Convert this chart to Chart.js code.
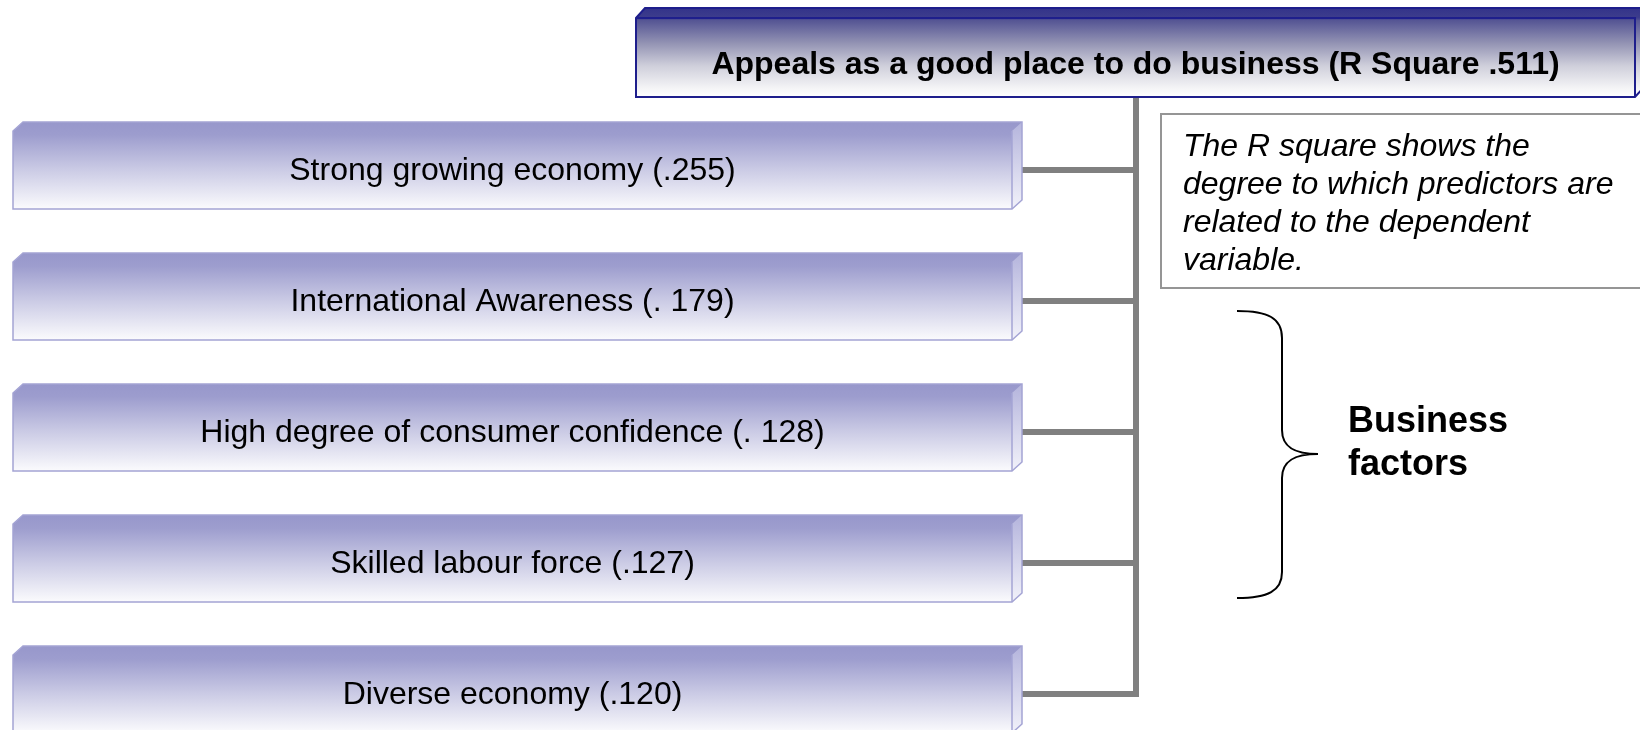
<!DOCTYPE html>
<html><head><meta charset="utf-8">
<script src="https://cdn.jsdelivr.net/npm/chart.js@4.4.1/dist/chart.umd.min.js"></script>
<style>html,body{margin:0;padding:0;background:#fff;}canvas{display:block;}</style>
</head><body>
<canvas id="c" width="1640" height="730"></canvas>
<script>
// ---- data ----
const factorNames = ["Strong growing economy", "International Awareness", "High degree of consumer confidence", "Skilled labour force", "Diverse economy"];
const factorValueLabels = ["(.255)", "(. 179)", "(. 128)", "(.127)", "(.120)"];
const factorValues = [0.255, 0.179, 0.128, 0.127, 0.120];
const outcomeName = "Appeals as a good place to do business";
const outcomeLabel = "(R Square .511)";
const noteLines = ["The R square shows the", "degree to which predictors are", "related to the dependent", "variable."];
const groupLines = ["Business", "factors"];

// ---- layout & style (not data) ----
const FONT = '"Liberation Sans", Arial, Helvetica, sans-serif';
const L = {
  boxLeft: 13, boxRight: 1012, boxHalf: 39, dx: 10, dy: 9,
  topBox: {left: 636, right: 1635, top: 18, bottom: 97, dx: 9, dy: 10, textBaseline: 74},
  trunkX: 1136, lineW: 6,
  note: {left: 1161, top: 114, right: 1645, bottom: 288, textX: 1183, base0: 156, step: 38},
  group: {x: 1348, base0: 432, step: 43},
  brace: {x0: 1237, xv: 1282, tip: 1318, top: 311, mid: 454, bottom: 598}
};

function boxPath(ctx, l, t, r, b, dx, dy) {
  ctx.beginPath();
  ctx.moveTo(l, t); ctx.lineTo(l + dx, t - dy); ctx.lineTo(r + dx, t - dy);
  ctx.lineTo(r + dx, b - dy); ctx.lineTo(r, b); ctx.lineTo(l, b); ctx.closePath();
}

const diagram = {
  id: 'diagram',
  afterDraw(chart) {
    const ctx = chart.ctx;
    const ys = chart.scales.y;
    ctx.save();
    // connectors
    ctx.strokeStyle = '#808080';
    ctx.lineWidth = L.lineW;
    ctx.lineJoin = 'miter';
    const lastY = ys.getPixelForValue(factorNames.length - 1);
    ctx.beginPath();
    ctx.moveTo(L.trunkX, L.topBox.bottom);
    ctx.lineTo(L.trunkX, lastY);
    ctx.lineTo(L.boxRight + L.dx, lastY);
    ctx.stroke();
    for (let i = 0; i < factorNames.length - 1; i++) {
      const cy = ys.getPixelForValue(i);
      ctx.beginPath();
      ctx.moveTo(L.boxRight + L.dx, cy);
      ctx.lineTo(L.trunkX, cy);
      ctx.stroke();
    }
    // factor boxes
    factorNames.forEach((name, i) => {
      const cy = ys.getPixelForValue(i);
      const t = cy - L.boxHalf, b = cy + L.boxHalf, l = L.boxLeft, r = L.boxRight;
      const g = ctx.createLinearGradient(0, t - L.dy, 0, b);
      g.addColorStop(0, '#9797cb');
      g.addColorStop(0.15, '#9d9dce');
      g.addColorStop(0.55, '#cbcbe5');
      g.addColorStop(1, '#fbfbfd');
      boxPath(ctx, l, t, r, b, L.dx, L.dy);
      ctx.fillStyle = g; ctx.fill();
      // side face
      const gs = ctx.createLinearGradient(0, t - L.dy, 0, b);
      gs.addColorStop(0, '#b4b4dc'); gs.addColorStop(1, '#f2f2fa');
      ctx.beginPath();
      ctx.moveTo(r, t); ctx.lineTo(r + L.dx, t - L.dy); ctx.lineTo(r + L.dx, b - L.dy); ctx.lineTo(r, b); ctx.closePath();
      ctx.fillStyle = gs; ctx.fill();
      ctx.strokeStyle = '#a4a4d4'; ctx.lineWidth = 1.5;
      boxPath(ctx, l, t, r, b, L.dx, L.dy); ctx.stroke();
      ctx.beginPath(); ctx.moveTo(r, t); ctx.lineTo(r, b); ctx.stroke();
      ctx.fillStyle = '#000';
      ctx.font = '32px ' + FONT;
      ctx.textAlign = 'center'; ctx.textBaseline = 'alphabetic';
      ctx.fillText(name + ' ' + factorValueLabels[i], (l + r) / 2, cy + 10);
    });
    // top box
    const tb = L.topBox;
    const gt = ctx.createLinearGradient(0, tb.top - tb.dy, 0, tb.bottom);
    gt.addColorStop(0, '#33338a');
    gt.addColorStop(0.11, '#3d3d8c');
    gt.addColorStop(0.14, '#555594');
    gt.addColorStop(0.4, '#9494b4');
    gt.addColorStop(0.65, '#cfcfdb');
    gt.addColorStop(0.9, '#f4f4f6');
    gt.addColorStop(1, '#ffffff');
    boxPath(ctx, tb.left, tb.top, tb.right, tb.bottom, tb.dx, tb.dy);
    ctx.fillStyle = gt; ctx.fill();
    ctx.strokeStyle = '#1e1e8c'; ctx.lineWidth = 2;
    ctx.stroke();
    ctx.beginPath(); ctx.moveTo(tb.left, tb.top); ctx.lineTo(tb.right, tb.top); ctx.lineTo(tb.right, tb.bottom); ctx.stroke();
    ctx.fillStyle = '#000';
    ctx.font = 'bold 32px ' + FONT;
    ctx.textAlign = 'center';
    ctx.fillText(outcomeName + ' ' + outcomeLabel, (tb.left + tb.right) / 2, tb.textBaseline);
    // note box
    const n = L.note;
    ctx.strokeStyle = '#959595'; ctx.lineWidth = 2;
    ctx.strokeRect(n.left, n.top, n.right - n.left, n.bottom - n.top);
    ctx.fillStyle = '#000';
    ctx.font = 'italic 32px ' + FONT;
    ctx.textAlign = 'left';
    noteLines.forEach((s, i) => ctx.fillText(s, n.textX, n.base0 + i * n.step));
    // brace
    const br = L.brace;
    ctx.strokeStyle = '#000'; ctx.lineWidth = 2;
    ctx.beginPath();
    ctx.moveTo(br.x0, br.top);
    ctx.bezierCurveTo(br.x0 + 31, br.top, br.xv, br.top + 7, br.xv, br.top + 27);
    ctx.lineTo(br.xv, br.mid - 24);
    ctx.bezierCurveTo(br.xv, br.mid - 6, br.xv + 14, br.mid, br.tip, br.mid);
    ctx.moveTo(br.tip, br.mid);
    ctx.bezierCurveTo(br.xv + 14, br.mid, br.xv, br.mid + 6, br.xv, br.mid + 24);
    ctx.lineTo(br.xv, br.bottom - 26);
    ctx.bezierCurveTo(br.xv, br.bottom - 7, br.x0 + 31, br.bottom, br.x0, br.bottom);
    ctx.stroke();
    // group label
    ctx.font = 'bold 36px ' + FONT;
    groupLines.forEach((s, i) => ctx.fillText(s, L.group.x, L.group.base0 + i * L.group.step));
    ctx.restore();
  }
};

new Chart(document.getElementById('c'), {
  type: 'bar',
  data: {
    labels: factorNames.map((nm, i) => nm + ' ' + factorValueLabels[i]),
    datasets: [{ label: 'Beta', data: factorValues, backgroundColor: 'rgba(0,0,0,0)', borderWidth: 0 }]
  },
  options: {
    indexAxis: 'y',
    responsive: false,
    animation: false,
    events: [],
    devicePixelRatio: 1,
    layout: { padding: { top: 170, bottom: 36, left: 13, right: 628 } },
    plugins: { legend: { display: false }, tooltip: { enabled: false }, title: { display: false } },
    scales: {
      x: { display: false, min: 0, max: 1 },
      y: { display: false, offset: false }
    }
  },
  plugins: [diagram]
});
</script>
</body></html>
